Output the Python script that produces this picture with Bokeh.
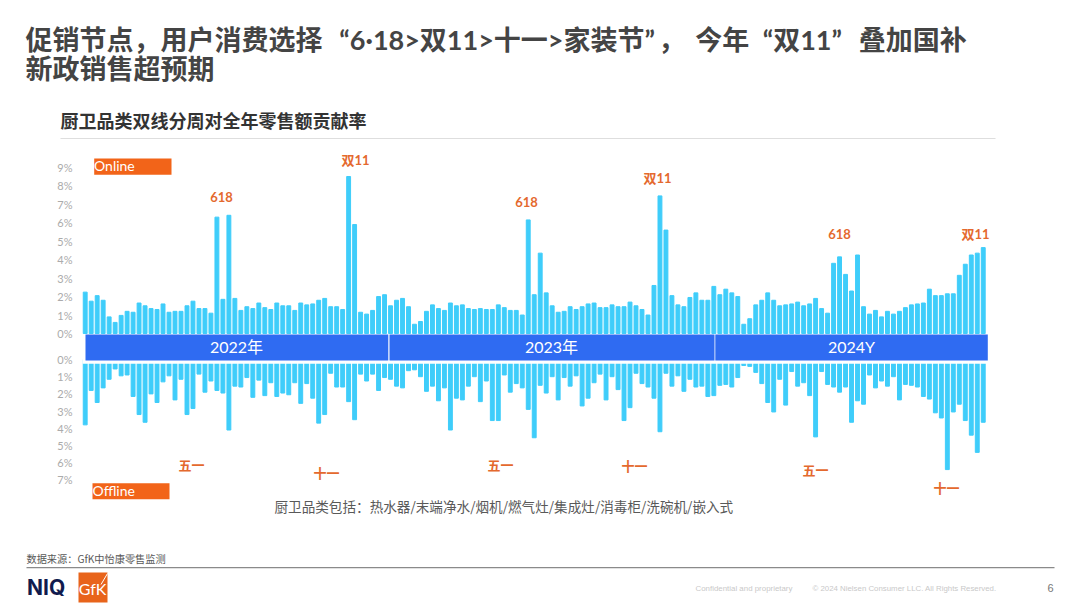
from bokeh.embed import file_html
from bokeh.resources import INLINE
from bokeh.plotting import figure
from bokeh.models import (Range1d, LinearAxis, FixedTicker, PrintfTickFormatter,
                          Label, BoxAnnotation, ColumnDataSource)

# ---- data -------------------------------------------------------------
online_2022 = [2.24,1.75,2.05,1.8,0.9,0.6,0.98,1.2,1.15,1.65,1.5,1.35,1.3,1.6,1.15,1.2,1.2,1.5,1.75,1.35,
               1.35,1.1,6.3,1.85,6.4,1.9,1.25,1.45,1.35,1.65,1.4,1.3,1.65,1.5,1.5,1.25,1.65,1.55,1.6,1.8,
               1.9,1.45,1.45,1.3,8.5,5.9,1.15,1.05,1.25,2.0,2.1,1.5]
online_2023 = [1.8,1.9,1.45,0.5,0.65,1.2,1.55,1.35,1.25,1.65,1.5,1.55,1.35,1.3,1.35,1.3,1.3,1.55,1.4,1.25,
               1.25,1.0,6.15,2.1,4.35,2.2,1.5,1.15,1.2,1.45,1.3,1.45,1.6,1.65,1.4,1.4,1.55,1.45,1.45,1.7,
               1.5,1.3,1.0,2.6,7.45,5.6,2.05,1.55,1.45,1.95,2.2,1.8]
online_2024 = [1.8,2.55,2.1,2.4,2.2,2.0,0.5,0.8,1.55,1.8,2.2,1.8,1.5,1.55,1.6,1.7,1.5,1.6,1.9,1.35,
               1.1,3.8,4.15,3.2,2.3,4.25,1.45,1.05,1.25,0.9,1.2,1.05,1.2,1.4,1.55,1.6,1.65,2.4,2.05,2.05,
               2.15,2.15,3.15,3.75,4.25,4.35,4.65]
offline_2022 = [3.8,1.8,2.5,1.65,1.15,0.55,0.95,0.9,2.15,3.2,3.65,2.0,2.5,1.3,0.95,2.35,1.15,3.2,2.85,0.85,
                1.9,1.25,1.8,1.95,4.1,1.55,1.6,1.05,2.2,1.2,2.1,1.35,2.15,1.95,2.05,1.35,2.55,1.4,2.25,3.7,
                3.2,0.8,1.6,1.6,2.45,3.5,0.85,1.25,0.85,1.8,1.05,1.15]
offline_2023 = [1.55,1.65,0.65,0.6,1.0,1.85,1.55,2.4,1.65,4.1,2.25,2.35,1.55,1.0,2.45,1.25,3.55,3.55,0.9,1.9,
                1.4,1.65,2.9,4.55,1.5,1.95,1.0,2.35,1.05,1.55,0.95,2.7,2.25,1.35,0.85,2.35,1.0,1.75,3.55,2.8,
                0.8,1.4,1.6,2.25,4.2,0.8,1.55,0.95,1.85,1.15,1.6,1.55]
offline_2024 = [2.15,2.1,1.5,1.45,1.6,1.05,0.35,0.4,0.75,1.4,2.5,3.05,1.15,2.65,0.7,1.55,1.35,2.1,4.5,0.7,
                1.45,1.6,1.9,1.6,3.65,2.4,2.6,0.9,1.65,1.25,1.55,1.0,2.35,1.45,1.5,1.6,2.15,2.3,3.1,3.4,
                6.4,3.05,2.6,3.55,4.4,5.4,3.65]
online_ticks = [0,1,2,3,4,5,6,7,8,9]
offline_ticks = [0,1,2,3,4,5,6,7]
years = ["2022年","2023年","2024Y"]
title_lines = ["促销节点，用户消费选择\u2002\u2009“6·18>双11>十一>家装节”\u2009，\u2009 今年\u2002“双11”\u2002\u2009叠加国补","新政销售超预期"]
subtitle = "厨卫品类双线分周对全年零售额贡献率"
note = "厨卫品类包括：热水器/末端净水/烟机/燃气灶/集成灶/消毒柜/洗碗机/嵌入式"
source_text = "数据来源：GfK中怡康零售监测"

online = online_2022 + online_2023 + online_2024
offline = offline_2022 + offline_2023 + offline_2024
weeks = list(range(len(online)))

CJK = "Noto Sans CJK SC"
MIX = "Lato, 'Noto Sans CJK SC'"
ORANGE = "#F26419"
ACCENT = "#E4692E"
BAR = "#3FCDFA"
BLUE = "#2F6BF2"

# The canvas fills the window; the frame fills the whole canvas.
OX, OY, W, H = 0, 0, 1080, 608

def wk(px):      # page x -> week index
    return (px - 84.7) / 5.987
def on(py):      # page y -> online percent
    return (333 - py) / 18.47
def off(py):     # page y -> offline percent
    return (py - 359) / 17.2

p = figure(width=W, height=H, output_backend="svg", toolbar_location=None,
           x_range=Range1d(wk(OX), wk(OX + W)), y_range=Range1d(on(OY + H), on(OY)),
           x_axis_location=None, y_axis_location=None,
           min_border=0, outline_line_color=None,
           background_fill_color="white", border_fill_color="white")
p.grid.visible = False
p.extra_y_ranges = {"off": Range1d(start=off(OY + H), end=off(OY)), "py": Range1d(start=OY + H, end=OY)}
p.extra_x_ranges = {"px": Range1d(start=OX, end=OX + W)}

# ---- bars -------------------------------------------------------------
src = ColumnDataSource(dict(week=weeks, online=online, offline=offline))
p.vbar(x="week", top="online", bottom=0, width=0.65, color=BAR, source=src)
p.vbar(x="week", top="offline", bottom=0, width=0.65, color=BAR, source=src, y_range_name="off")

# ---- axes -------------------------------------------------------------
def pct_axis(ticks, range_name):
    ax = LinearAxis(y_range_name=range_name, ticker=FixedTicker(ticks=ticks),
                    formatter=PrintfTickFormatter(format="%d%%"),
                    axis_line_color=None, major_tick_line_color=None, minor_tick_line_color=None,
                    major_label_text_font="Lato", major_label_text_font_size="11px",
                    major_label_text_color="#ABABAB", major_label_standoff=2)
    ax.fixed_location = wk(80)
    p.add_layout(ax, "left")
pct_axis(online_ticks, "default")
pct_axis(offline_ticks, "off")

# ---- slide furniture (page-pixel helper ranges) -----------------------
def box(l, r, t, b, color):
    p.add_layout(BoxAnnotation(left=l, right=r, top=t, bottom=b, x_range_name="px", y_range_name="py",
                               fill_color=color, fill_alpha=1, line_color=None, line_width=0))

def text(x, y, s, size, color, font=CJK, style="normal", align="left"):
    p.add_layout(Label(x=x, y=y, text=s, x_range_name="px", y_range_name="py",
                       text_font=font, text_font_size=f"{size}px", text_color=color,
                       text_font_style=style, text_align=align, text_baseline="middle"))

box(82, 990, 333.5, 363.3, "white")
box(85, 387.8, 334, 360, BLUE)
box(389, 714, 334, 360, BLUE)
box(714.8, 987.3, 334, 360, BLUE)
for cx, y in zip((236, 551, 851), years):
    text(cx, 346, y, 16, "white", font=MIX, align="center")

text(25, 39, title_lines[0], 27, "#444444", font=MIX, style="bold")
text(25, 68, title_lines[1], 27, "#444444", font=MIX, style="bold")
text(60, 119, subtitle, 18, "#333333", style="bold")
box(60, 995, 137.5, 138.5, "#DEDEDE")

box(93.7, 171, 158, 174.3, ORANGE)
text(93.5, 164.5, "Online", 14, "white", font="Lato")
box(92, 169, 482.7, 498.7, ORANGE)
text(92, 489.5, "Offline", 14, "white", font="Lato")

for cx, cy, s in [(355,161,"双11"),(221,198,"618"),(526,203,"618"),(657,179,"双11"),(839,235,"618"),(975,235,"双11"),
                  (191,466,"五一"),(326,474,"十一"),(500,466,"五一"),(634,467,"十一"),(815,471,"五一"),(946,489,"十一")]:
    text(cx, cy - 1.5, s, 13, ACCENT, font=MIX, style="bold", align="center")

text(274, 505, note, 13.6, "#595959")
text(26, 557.5, source_text, 10.2, "#595959")
box(26, 1054, 566.5, 567.8, "#8A8A8A")

text(26.5, 587, "NIQ", 21, "#101B4E", font="Inter", style="bold")
box(78, 107, 572, 602, "#E8641B")
text(92, 588, "GfK", 16, "white", font="Lato", align="center")
p.segment(x0=[100.5], y0=[584], x1=[107], y1=[573], line_color="white", line_width=1,
          x_range_name="px", y_range_name="py", level="overlay")
text(695, 587.5, "Confidential and proprietary", 7.9, "#C9C9C9", font="Liberation Sans")
text(812, 587.5, "© 2024 Nielsen Consumer LLC. All Rights Reserved.", 7.85, "#C9C9C9", font="Liberation Sans")
text(1047, 587.5, "6", 11, "#777777", font="Liberation Sans")

open("out.html", "w").write(file_html(p, INLINE))
